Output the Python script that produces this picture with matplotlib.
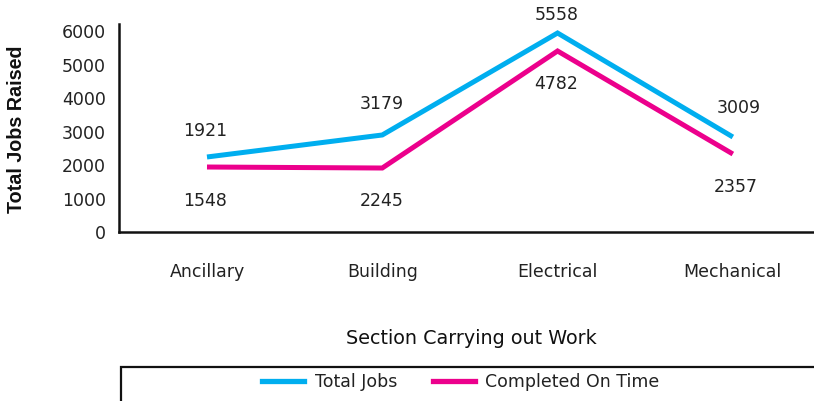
import matplotlib
matplotlib.use("Agg")
import matplotlib.pyplot as plt
from matplotlib.patches import Rectangle
from matplotlib.lines import Line2D

categories = ["Ancillary", "Building", "Electrical", "Mechanical"]
total_line = [2239, 2896, 5940, 2836]
completed_line = [1940, 1910, 5403, 2328]
total_labels = ["1921", "3179", "5558", "3009"]
completed_labels = ["1548", "2245", "4782", "2357"]
yticks = [0, 1000, 2000, 3000, 4000, 5000, 6000]

BLUE = "#00AEEF"
PINK = "#EC008C"
FONT = "DejaVu Sans"
TXT = "#222222"
FS = 12.5

W, H = 814, 401
fig = plt.figure(figsize=(W / 100, H / 100), dpi=100)
ax = fig.add_axes([119 / W, 1 - 232 / H, 1 - 119 / W, (232 - 24) / H])

x = list(range(len(categories)))
ax.plot(x, total_line, color=BLUE, lw=3.6, solid_capstyle="butt", solid_joinstyle="miter")
ax.plot(x, completed_line, color=PINK, lw=3.6, solid_capstyle="butt", solid_joinstyle="miter")

ax.set_xlim(-0.502, 3.463)
ax.set_ylim(0, 6209)
ax.set_yticks(yticks)
ax.set_yticklabels([str(v) for v in yticks], fontfamily=FONT, fontsize=FS, color=TXT)
ax.set_xticks(x)
ax.set_xticklabels(categories, fontfamily=FONT, fontsize=FS, color=TXT)
ax.tick_params(axis="both", length=0)
ax.tick_params(axis="y", pad=9.4)
ax.tick_params(axis="x", pad=22)

for s in ["top", "right"]:
    ax.spines[s].set_visible(False)
for s in ["left", "bottom"]:
    ax.spines[s].set_linewidth(1.8)
    ax.spines[s].set_color("#111111")

# label offsets in pixels (dy positive = up)
total_off = [(-2, 26), (-1, 31), (-1, 18), (6, 29)]
comp_off = [(-2, -34), (-1, -33), (-1, -33), (3, -33)]
px = 72 / 100
for i in x:
    ax.annotate(total_labels[i], (i, total_line[i]),
                xytext=(total_off[i][0] * px, total_off[i][1] * px), textcoords="offset points",
                ha="center", va="center", fontfamily=FONT, fontsize=FS, color=TXT)
    ax.annotate(completed_labels[i], (i, completed_line[i]),
                xytext=(comp_off[i][0] * px, comp_off[i][1] * px), textcoords="offset points",
                ha="center", va="center", fontfamily=FONT, fontsize=FS, color=TXT)

fig.text(17 / W, 1 - 129 / H, "Total Jobs Raised", rotation=90, ha="center", va="center",
         fontfamily="Liberation Sans", fontsize=14.2, fontweight="bold", color="#111111")
fig.text(471 / W, 1 - 338 / H, "Section Carrying out Work", ha="center", va="center",
         fontfamily=FONT, fontsize=13.8, color="#111111")

# legend box
fig.patches.append(Rectangle((121 / W, -0.05), 1.0, (1 - 367 / H) + 0.05,
                             transform=fig.transFigure, fill=False, edgecolor="#111111", lw=1.6))
handles = [Line2D([], [], color=BLUE, lw=3.8), Line2D([], [], color=PINK, lw=3.8)]
fig.legend(handles, ["Total Jobs", "Completed On Time"], loc="center",
           bbox_to_anchor=(461 / W, 1 - 382 / H), ncol=2, frameon=False,
           prop={"family": FONT, "size": FS}, handlelength=2.4, columnspacing=2.05,
           handletextpad=0.62, labelcolor=TXT, borderpad=0, borderaxespad=0)

fig.savefig("out.png", dpi=100)
